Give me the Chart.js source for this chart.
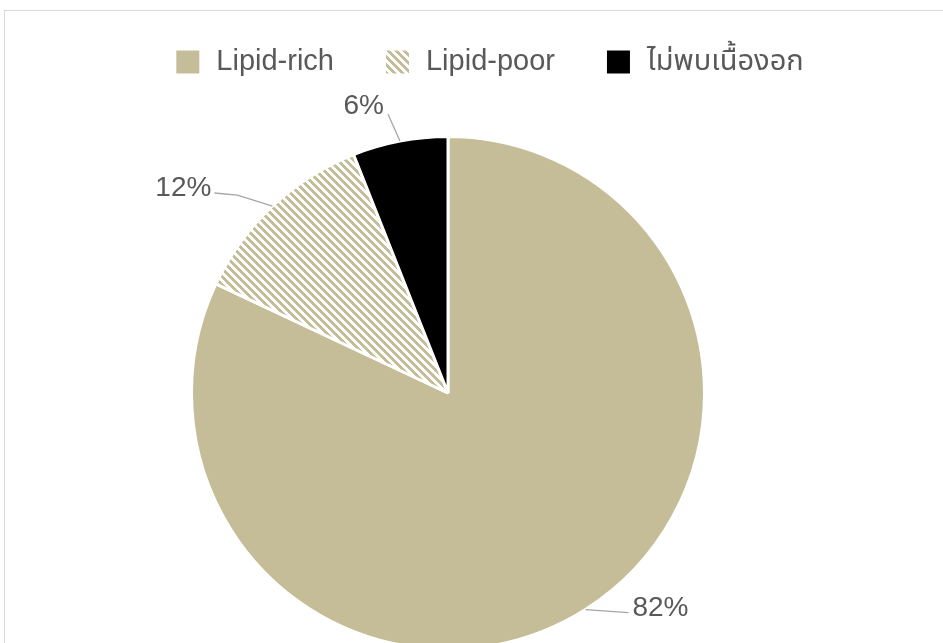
<!DOCTYPE html>
<html lang="th">
<head>
<meta charset="UTF-8">
<title>Lipid pie</title>
<script src="https://cdn.jsdelivr.net/npm/chart.js"></script>
<style>
    html, body { margin: 0; padding: 0; background: #fff; overflow: hidden; }
    .frame { position: absolute; left: 4px; top: 10px; width: 1000px; height: 700px; border: 1px solid #d9d9d9; }
    .wrap { position: absolute; left: 0; top: 0; width: 943px; height: 700px; }
</style>
</head>
<body>
<div class="frame"></div>
<div class="wrap"><canvas id="pie"></canvas></div>
<script>
// Data
const labels = ['Lipid-rich', 'Lipid-poor', 'ไม่พบเนื้องอก'];
const percents = [82, 12, 6];

const TAN = '#C4BD97';
const TEXT = '#595959';
const FONT = '"Liberation Sans", Arial, "Noto Sans Thai", "Noto Sans", sans-serif';

// diagonal stripe pattern (downward)
function stripes() {
    const n = 8;
    const c = document.createElement('canvas');
    c.width = n; c.height = n;
    const g = c.getContext('2d');
    const img = g.createImageData(n, n);
    for (let y = 0; y < n; y++) {
        for (let x = 0; x < n; x++) {
            const on = ((x - y + 10 * n) % n) < 4;
            const i = (y * n + x) * 4;
            img.data[i] = on ? 0xC4 : 255;
            img.data[i + 1] = on ? 0xBD : 255;
            img.data[i + 2] = on ? 0x97 : 255;
            img.data[i + 3] = 255;
        }
    }
    g.putImageData(img, 0, 0);
    return g.createPattern(c, 'repeat');
}

const fills = [TAN, stripes(), '#000000'];

// leader lines + % labels, offsets relative to slice edge midpoint
const labelPlace = [
    { elbow: null, end: [43, 3], text: [47, -1], align: 'left' },
    { elbow: [-35, -11], end: [-58, -13], text: [-61, -18], align: 'right' },
    { elbow: null, end: [-12, -27], text: [-16, -35], align: 'right' }
];

const outsideLabels = {
    id: 'outsideLabels',
    afterDatasetsDraw(chart) {
        const ctx = chart.ctx;
        const meta = chart.getDatasetMeta(0);
        ctx.save();
        meta.data.forEach((arc, i) => {
            const p = arc.getProps(['x', 'y', 'startAngle', 'endAngle', 'outerRadius'], true);
            const mid = (p.startAngle + p.endAngle) / 2;
            const sx = p.x + Math.cos(mid) * p.outerRadius;
            const sy = p.y + Math.sin(mid) * p.outerRadius;
            const pl = labelPlace[i];
            ctx.strokeStyle = '#a6a6a6';
            ctx.lineWidth = 1.3;
            ctx.beginPath();
            ctx.moveTo(sx, sy);
            if (pl.elbow) ctx.lineTo(sx + pl.elbow[0], sy + pl.elbow[1]);
            ctx.lineTo(sx + pl.end[0], sy + pl.end[1]);
            ctx.stroke();
            ctx.fillStyle = TEXT;
            ctx.font = '28px ' + FONT;
            ctx.textAlign = pl.align;
            ctx.textBaseline = 'middle';
            ctx.fillText(percents[i] + '%', sx + pl.text[0], sy + pl.text[1]);
        });
        ctx.restore();
    }
};

// legend drawn across the full frame width (centre ~490)
const topLegend = {
    id: 'topLegend',
    afterDraw(chart) {
        const ctx = chart.ctx;
        ctx.save();
        ctx.font = '29px ' + FONT;
        const box = 23, gap = 17, spacing = 52;
        const widths = labels.map(l => ctx.measureText(l).width);
        const total = widths.reduce((a, w) => a + box + gap + w, 0) + spacing * (labels.length - 1);
        let x = 490 - total / 2;
        const cy = 62;
        labels.forEach((l, i) => {
            ctx.fillStyle = fills[i];
            ctx.fillRect(x, cy - box / 2, box, box);
            ctx.fillStyle = TEXT;
            ctx.textAlign = 'left';
            ctx.textBaseline = 'middle';
            ctx.fillText(l, x + box + gap, cy);
            x += box + gap + widths[i] + spacing;
        });
        ctx.restore();
    }
};

new Chart(document.getElementById('pie'), {
    type: 'pie',
    data: {
        labels: labels,
        datasets: [{
            data: percents,
            backgroundColor: fills,
            borderColor: '#ffffff',
            borderWidth: 3
        }]
    },
    options: {
        responsive: true,
        maintainAspectRatio: false,
        animation: false,
        layout: { padding: { left: 190, right: 237, top: 135, bottom: 49 } },
        plugins: {
            legend: { display: false },
            tooltip: { enabled: false }
        }
    },
    plugins: [outsideLabels, topLegend]
});
</script>
</body>
</html>
